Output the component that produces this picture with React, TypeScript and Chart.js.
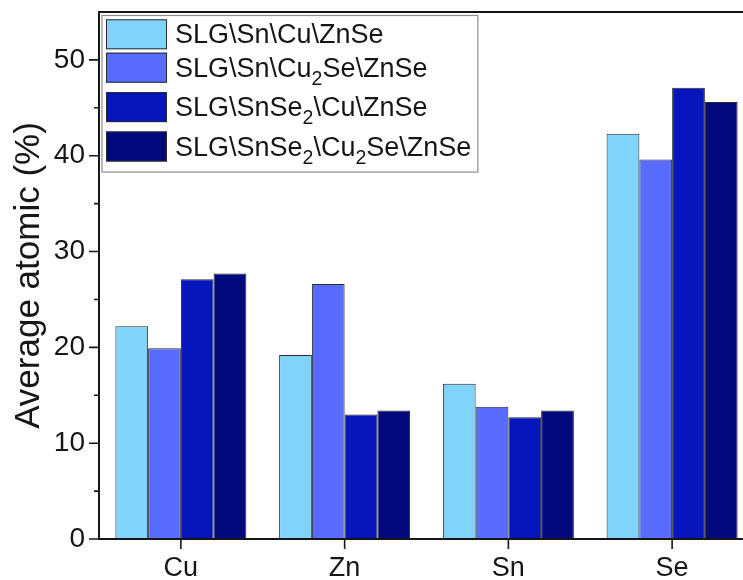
import { useEffect, useRef } from "react";
import { Chart, registerables } from "chart.js";

Chart.register(...registerables);

// Elements measured on each film
const ELEMENTS = ["Cu", "Zn", "Sn", "Se"];

// Film stacks (subscripts written with Unicode subscript digits)
const SAMPLE_LABELS = [
  "SLG\\Sn\\Cu\\ZnSe",
  "SLG\\Sn\\Cu₂Se\\ZnSe",
  "SLG\\SnSe₂\\Cu\\ZnSe",
  "SLG\\SnSe₂\\Cu₂Se\\ZnSe",
];

// Average atomic percentage per element (Cu, Zn, Sn, Se)
const SN_CU = [22.2, 19.2, 16.2, 42.3];
const SN_CU2SE = [19.9, 26.6, 13.8, 39.6];
const SNSE2_CU = [27.1, 13.0, 12.7, 47.1];
const SNSE2_CU2SE = [27.7, 13.4, 13.4, 45.6];

const SAMPLE_COLORS = ["#80D3FB", "#586CFF", "#0416BC", "#000A7C"];

const Y_TICKS = [0, 10, 20, 30, 40, 50];
const Y_MAX = 55;
const Y_TITLE = "Average atomic (%)";

const FONT = "'Liberation Sans', Arial, Helvetica, sans-serif";
const INK = "#161616";

const SUB_RE = /[\u2080-\u2089]/;

// Split a label into normal / subscript runs
function runsOf(text: string) {
  const runs: { t: string; sub: boolean }[] = [];
  for (const ch of text) {
    const sub = SUB_RE.test(ch);
    const c = sub ? String.fromCharCode(ch.charCodeAt(0) - 0x2080 + 48) : ch;
    const last = runs[runs.length - 1];
    if (last && last.sub === sub) last.t += c;
    else runs.push({ t: c, sub });
  }
  return runs;
}

function richWidth(ctx: CanvasRenderingContext2D, text: string, fs: number, sfs: number) {
  let w = 0;
  for (const r of runsOf(text)) {
    ctx.font = `${r.sub ? sfs : fs}px ${FONT}`;
    w += ctx.measureText(r.t).width;
  }
  return w;
}

function drawRich(
  ctx: CanvasRenderingContext2D,
  text: string,
  x: number,
  y: number,
  fs: number,
  sfs: number,
  drop: number
) {
  let cx = x;
  for (const r of runsOf(text)) {
    ctx.font = `${r.sub ? sfs : fs}px ${FONT}`;
    ctx.fillText(r.t, cx, r.sub ? y + drop : y);
    cx += ctx.measureText(r.t).width;
  }
}

// Axis lines, frame and tick marks (major + minor)
const axesFrame = {
  id: "axesFrame",
  afterDatasetsDraw(chart: any) {
    const { ctx, chartArea: a, scales } = chart;
    const xs = scales.x;
    const ys = scales.y;
    ctx.save();
    ctx.strokeStyle = INK;
    ctx.lineWidth = 2;
    ctx.beginPath();
    ctx.moveTo(a.left - 1, a.top);
    ctx.lineTo(a.right + 20, a.top);
    ctx.moveTo(a.left, a.top - 1);
    ctx.lineTo(a.left, a.bottom + 1);
    ctx.moveTo(a.left - 1, a.bottom);
    ctx.lineTo(a.right + 20, a.bottom);
    ctx.stroke();

    ctx.lineWidth = 1.6;
    ctx.beginPath();
    Y_TICKS.forEach((v) => {
      const p = ys.getPixelForValue(v);
      ctx.moveTo(a.left - 10, p);
      ctx.lineTo(a.left, p);
    });
    for (let i = 0; i < Y_TICKS.length - 1; i++) {
      const v = (Y_TICKS[i] + Y_TICKS[i + 1]) / 2;
      const p = ys.getPixelForValue(v);
      ctx.moveTo(a.left - 5, p);
      ctx.lineTo(a.left, p);
    }
    ELEMENTS.forEach((_, i) => {
      const p = xs.getPixelForValue(i);
      ctx.moveTo(p, a.bottom);
      ctx.lineTo(p, a.bottom + 10);
    });
    ctx.stroke();
    ctx.restore();
  },
};

// Boxed legend in the upper-left corner of the plot
const boxLegend = {
  id: "boxLegend",
  afterDraw(chart: any) {
    const { ctx, chartArea: a } = chart;
    const fs = 27;
    const sfs = 19.5;
    const left = a.left + 2.5;
    const top = a.top + 3;
    const swX = left + 4.5;
    const swW = 61;
    const swH = 30;
    const textX = swX + swW + 8;
    const rows = chart.data.datasets.map((ds: any) => ({
      label: ds.label as string,
      color: ds.backgroundColor as string,
      sub: SUB_RE.test(ds.label),
    }));
    let maxW = 0;
    rows.forEach((r: any) => {
      maxW = Math.max(maxW, richWidth(ctx, r.label, fs, sfs));
    });
    const tops: number[] = [];
    let y = top;
    rows.forEach((r: any) => {
      tops.push(y);
      y += 33.4 + (r.sub ? 6 : 0);
    });
    const boxW = textX + maxW + 6 - left;
    const boxH = y + 5 - top;

    ctx.save();
    ctx.fillStyle = "#ffffff";
    ctx.fillRect(left, top, boxW, boxH);
    ctx.strokeStyle = "#8c8c8c";
    ctx.lineWidth = 1.2;
    ctx.strokeRect(left + 0.5, top + 0.5, boxW, boxH);

    rows.forEach((r: any, i: number) => {
      const sy = tops[i] + 4.3;
      ctx.fillStyle = r.color;
      ctx.fillRect(swX, sy, swW, swH);
      ctx.strokeStyle = "#2a2a2a";
      ctx.lineWidth = 1;
      ctx.strokeRect(swX + 0.5, sy + 0.5, swW - 1, swH - 1);
      ctx.fillStyle = INK;
      ctx.textBaseline = "alphabetic";
      ctx.textAlign = "left";
      drawRich(ctx, r.label, textX, sy + 24, fs, sfs, 8);
    });
    ctx.restore();
  },
};

export default function App() {
  const ref = useRef<HTMLCanvasElement | null>(null);

  useEffect(() => {
    if (!ref.current) return;
    const series = [SN_CU, SN_CU2SE, SNSE2_CU, SNSE2_CU2SE];
    const chart = new Chart(ref.current, {
      type: "bar",
      data: {
        labels: ELEMENTS,
        datasets: series.map((values, i) => ({
          label: SAMPLE_LABELS[i],
          data: values,
          backgroundColor: SAMPLE_COLORS[i],
          borderColor: "#2a2a2a",
          borderWidth: 1,
          categoryPercentage: 0.8,
          barPercentage: 1,
        })),
      },
      options: {
        responsive: false,
        animation: false,
        layout: { padding: { left: 0, right: 6, top: 12, bottom: 0 } },
        plugins: {
          legend: { display: false },
          tooltip: { enabled: false },
        },
        scales: {
          x: {
            type: "category",
            grid: { display: false, drawTicks: true, tickLength: 10 },
            border: { display: false },
            ticks: {
              padding: 3,
              color: INK,
              font: { family: FONT, size: 27 },
              maxRotation: 0,
              autoSkip: false,
            },
            afterFit: (s: any) => {
              s.height = 41;
              s.paddingLeft = 0;
              s.paddingRight = 0;
            },
          },
          y: {
            min: 0,
            max: Y_MAX,
            grid: { display: false, drawTicks: true, tickLength: 10 },
            border: { display: false },
            ticks: {
              padding: 4,
              color: INK,
              font: { family: FONT, size: 28 },
            },
            afterBuildTicks: (s: any) => {
              s.ticks = Y_TICKS.map((value) => ({ value }));
            },
            afterFit: (s: any) => {
              s.width = 99;
              s.paddingTop = 0;
              s.paddingBottom = 0;
            },
            title: {
              display: true,
              text: Y_TITLE,
              color: INK,
              font: { family: FONT, size: 35 },
              padding: { top: 8, bottom: 0 },
            },
          },
        },
      },
      plugins: [axesFrame, boxLegend],
    });
    return () => chart.destroy();
  }, []);

  return (
    <div
      style={{
        position: "fixed",
        left: 0,
        top: 0,
        width: 743,
        height: 580,
        overflow: "hidden",
        background: "#ffffff",
      }}
    >
      <canvas ref={ref} width={760} height={580} style={{ display: "block" }} />
    </div>
  );
}
